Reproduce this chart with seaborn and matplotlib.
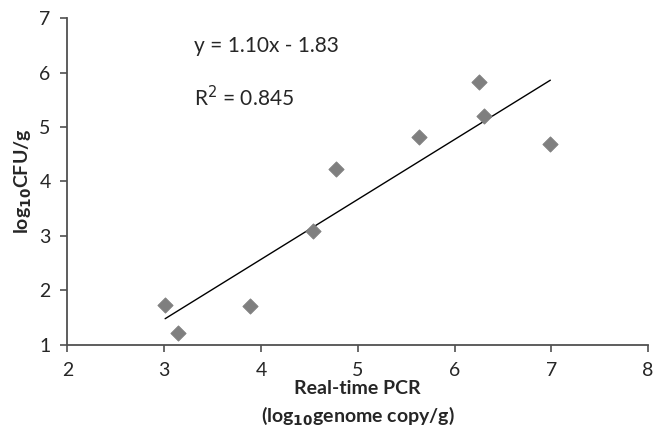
import numpy as np
import pandas as pd
import matplotlib
matplotlib.use("Agg")
import matplotlib.pyplot as plt
import seaborn as sns

pcr = [3.01, 3.14, 3.89, 4.54, 4.78, 5.63, 6.25, 6.30, 6.99]
cfu = [1.74, 1.21, 1.72, 3.09, 4.23, 4.81, 5.82, 5.20, 4.69]
slope = 1.10
intercept = -1.83
r2 = 0.845

df = pd.DataFrame({'pcr': pcr, 'cfu': cfu})
trend_x = np.array([min(pcr), max(pcr)])
trend = pd.DataFrame({'x': trend_x, 'y': slope * trend_x + intercept})

sns.set_style('white')
plt.rcParams['font.family'] = ['Lato', 'DejaVu Sans']

fig = plt.figure(figsize=(6.54, 4.29), dpi=100)
ax = fig.add_axes([0.103, 0.196, 0.888, 0.762])

sns.lineplot(data=trend, x='x', y='y', color='black', linewidth=1.0, ax=ax)
sns.scatterplot(data=df, x='pcr', y='cfu', marker='D', s=60, color='#7f7f7f',
                edgecolor='#7f7f7f', ax=ax, zorder=3)

ax.set_xlim(2, 8)
ax.set_ylim(1, 7)
ax.set_xticks(range(2, 9))
ax.set_yticks(range(1, 8))
ax.tick_params(axis='both', direction='out', length=5, width=1.2, color='#505050',
               labelsize=14, bottom=True, left=True)
ax.tick_params(axis='x', pad=7)
ax.tick_params(axis='y', pad=7)
for s in ['top', 'right']:
    ax.spines[s].set_visible(False)
for s in ['left', 'bottom']:
    ax.spines[s].set_color('#505050')
    ax.spines[s].set_linewidth(1.3)

ax.set_xlabel('Real-time PCR\n(log$_{\\mathbf{10}}$genome copy/g)', fontsize=14,
              fontweight='bold', linespacing=1.45, labelpad=1)
ax.set_ylabel('log$_{\\mathbf{10}}$CFU/g', fontsize=14, fontweight='bold')

ax.text(3.31, 6.48, f'y = {slope:.2f}x - {abs(intercept):.2f}', fontsize=15, va='center')
ax.text(3.31, 5.54, f'R$^2$ = {r2:.3f}', fontsize=15, va='center')

fig.savefig('out.png', dpi=100)
